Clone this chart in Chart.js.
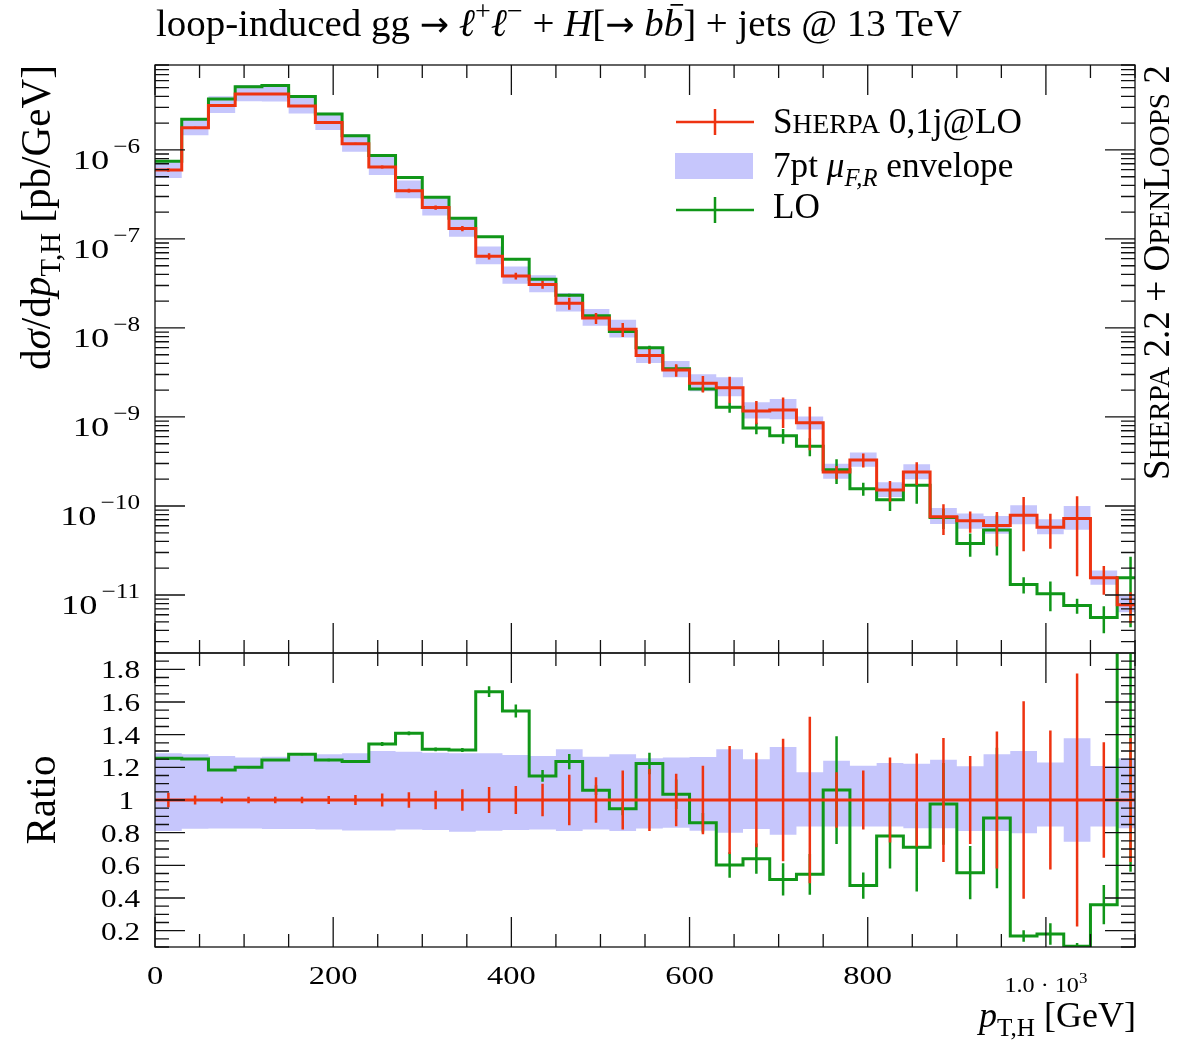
<!DOCTYPE html>
<html>
<head>
<meta charset="utf-8">
<script src="https://cdn.jsdelivr.net/npm/chart.js@4.4.1/dist/chart.umd.min.js"></script>
<style>
html, body { margin: 0; padding: 0; background: #fff; }
#wrap { position: relative; width: 1189px; height: 1040px; }
#wrap canvas { position: absolute; left: 0; top: 0; }
</style>
</head>
<body>
<div id="wrap">
  <canvas id="mainChart" width="1189" height="1040"></canvas>
  <canvas id="ratioChart" width="1189" height="1040"></canvas>
</div>
<script>
// ==========================================
// 1. Data (30 GeV bins)
// ==========================================
const binEdges = [0, 30, 60, 90, 120, 150, 180, 210, 240, 270, 300, 330, 360, 390, 420, 450,
  480, 510, 540, 570, 600, 630, 660, 690, 720, 750, 780, 810, 840, 870, 900, 930, 960, 990,
  1020, 1050, 1080, 1110];

// Sherpa 0,1j@LO, dσ/dpT [pb/GeV]
const sherpaXs = [5.96e-7, 1.77e-6, 3.15e-6, 4.26e-6, 4.26e-6, 3.12e-6, 2.04e-6, 1.17e-6, 6.44e-7, 3.49e-7,
  2.25e-7, 1.31e-7, 6.38e-8, 3.84e-8, 3.07e-8, 1.89e-8, 1.29e-8, 9.66e-9, 4.89e-9, 3.37e-9,
  2.39e-9, 2.13e-9, 1.17e-9, 1.20e-9, 8.63e-10, 2.41e-10, 3.29e-10, 1.51e-10, 2.41e-10, 7.59e-11,
  6.84e-11, 6.03e-11, 7.85e-11, 5.75e-11, 7.24e-11, 1.56e-11, 7.76e-12];
// relative stat. error of Sherpa
const sherpaRelErr = [0.045, 0.027, 0.02, 0.02, 0.02, 0.02, 0.025, 0.03, 0.04, 0.047,
  0.056, 0.066, 0.08, 0.086, 0.1, 0.155, 0.14, 0.18, 0.19, 0.16,
  0.21, 0.33, 0.29, 0.375, 0.51, 0.17, 0.18, 0.26, 0.285, 0.38,
  0.27, 0.42, 0.605, 0.425, 0.775, 0.353, 0.38];
// 7pt scale envelope, as ratio to Sherpa
const envHigh = [1.286, 1.28, 1.27, 1.26, 1.265, 1.273, 1.28, 1.286, 1.30, 1.296,
  1.29, 1.286, 1.286, 1.275, 1.27, 1.31, 1.265, 1.28, 1.255, 1.26,
  1.263, 1.31, 1.25, 1.324, 1.17, 1.24, 1.21, 1.226, 1.222, 1.247,
  1.206, 1.28, 1.30, 1.23, 1.378, 1.208, 1.255];
const envLow = [0.81, 0.824, 0.826, 0.826, 0.822, 0.822, 0.82, 0.814, 0.814, 0.82,
  0.816, 0.806, 0.812, 0.816, 0.82, 0.81, 0.82, 0.81, 0.826, 0.83,
  0.812, 0.80, 0.822, 0.788, 0.837, 0.837, 0.837, 0.837, 0.827, 0.827,
  0.81, 0.81, 0.796, 0.837, 0.745, 0.837, 0.827];
// LO, as ratio to Sherpa, with its error (ratio units)
const loRatio = [1.255, 1.251, 1.184, 1.20, 1.245, 1.28, 1.245, 1.235, 1.343, 1.408,
  1.31, 1.306, 1.663, 1.545, 1.147, 1.235, 1.06, 0.946, 1.224, 1.035,
  0.861, 0.602, 0.641, 0.514, 0.545, 1.061, 0.476, 0.78, 0.71, 0.976,
  0.555, 0.89, 0.167, 0.18, 0.105, 0.359, 2.01];
const loRatioErr = [0.008, 0.006, 0.006, 0.006, 0.006, 0.006, 0.007, 0.008, 0.012, 0.012,
  0.012, 0.012, 0.033, 0.04, 0.036, 0.047, 0.03, 0.04, 0.066, 0.09,
  0.06, 0.078, 0.093, 0.098, 0.125, 0.33, 0.08, 0.2, 0.27, 0.25,
  0.163, 0.43, 0.035, 0.066, 0.02, 0.12, 1.45];

// axis ticks and labels
const xTickValues = [0, 200, 400, 600, 800, 1000];
const xTickLabels = ['0', '200', '400', '600', '800', '1.0 · 10^3'];
const logTickPowers = [-6, -7, -8, -9, -10, -11];
const ratioTickValues = [1.8, 1.6, 1.4, 1.2, 1.0, 0.8, 0.6, 0.4, 0.2];
const ratioTickLabels = ['1.8', '1.6', '1.4', '1.2', '1', '0.8', '0.6', '0.4', '0.2'];

// ==========================================
// 2. Styles and helpers
// ==========================================
const SERIF = '"Liberation Serif", "DejaVu Serif", serif';
const RED = '#ee3311', GREEN = '#109618', BAND = 'rgb(198,198,252)';

const xMinor = [], logMinor = [], ratioMinor = [];
for (let v = 50; v <= 1100; v += 50) if (v % 200) xMinor.push(v);
for (let p = -12; p <= -6; p++) for (let k = 2; k <= 9; k++) logMinor.push(k * Math.pow(10, p));
for (let v = 0.1; v < 1.9; v += 0.05) ratioMinor.push(+v.toFixed(2));

function stepLine(vals) {
  const pts = [];
  vals.forEach((v, i) => { pts.push({ x: binEdges[i], y: v }, { x: binEdges[i + 1], y: v }); });
  return pts;
}
function errorBars(lo, hi) {
  const pts = [];
  lo.forEach((l, i) => {
    const c = (binEdges[i] + binEdges[i + 1]) / 2;
    pts.push({ x: c, y: l }, { x: c, y: hi[i] }, { x: c, y: null });
  });
  return pts;
}
function ds(data, color, width, order, extra) {
  return Object.assign({
    data, borderColor: color, borderWidth: width, pointRadius: 0, fill: false,
    order, clip: 0, borderCapStyle: 'butt', borderJoinStyle: 'miter', spanGaps: false
  }, extra || {});
}

// rich text: runs of {t, it, scale, dy, bar, f}
function runFont(r, size) {
  return (r.it ? 'italic ' : '') + (size * (r.scale || 1)).toFixed(2) + 'px ' + (r.f || SERIF);
}
function runsWidth(ctx, runs, size) {
  let w = 0;
  runs.forEach(r => { ctx.font = runFont(r, size); w += ctx.measureText(r.t).width; });
  return w;
}
function fitSize(ctx, runs, width) {
  return 100 * width / runsWidth(ctx, runs, 100);
}
function drawRuns(ctx, runs, x, y, size) {
  runs.forEach(r => {
    ctx.font = runFont(r, size);
    ctx.fillText(r.t, x, y + (r.dy || 0) * size);
    const w = ctx.measureText(r.t).width;
    if (r.bar) {
      ctx.save();
      ctx.strokeStyle = '#000'; ctx.lineWidth = size * 0.045;
      ctx.beginPath();
      ctx.moveTo(x + w * 0.35, y - size * 0.8);
      ctx.lineTo(x + w * 1.0, y - size * 0.8);
      ctx.stroke();
      ctx.restore();
    }
    x += w;
  });
  return x;
}
// plain text stretched horizontally (the original uses a wider face)
function drawWide(ctx, text, x, y, size, sx, align) {
  ctx.font = size + 'px ' + SERIF;
  const w = ctx.measureText(text).width * sx;
  let left = x;
  if (align === 'right') left = x - w;
  if (align === 'center') left = x - w / 2;
  ctx.save();
  ctx.textAlign = 'left';
  ctx.translate(left, y);
  ctx.scale(sx, 1);
  ctx.fillText(text, 0, 0);
  ctx.restore();
  return w;
}

const ARROW = '"DejaVu Sans", sans-serif';
const titleRuns = [{ t: 'loop-induced gg ' }, { t: '→', f: ARROW, scale: 0.9 }, { t: ' ' }, { t: 'ℓ', it: 1 },
  { t: '+', scale: 0.72, dy: -0.42 }, { t: 'ℓ', it: 1 }, { t: '−', scale: 0.72, dy: -0.42 }, { t: ' + ' },
  { t: 'H', it: 1 }, { t: '[' }, { t: '→', f: ARROW, scale: 0.9 }, { t: ' ' },
  { t: 'b', it: 1 }, { t: 'b', it: 1, bar: 1 }, { t: '] + jets @ 13 TeV' }];
const yTitleRuns = [{ t: 'd' }, { t: 'σ', it: 1 }, { t: '/d' }, { t: 'p', it: 1 },
  { t: 'T,H', scale: 0.7, dy: 0.25 }, { t: ' [pb/GeV]' }];
const xTitleRuns = [{ t: 'p', it: 1 }, { t: 'T,H', scale: 0.7, dy: 0.25 }, { t: ' [GeV]' }];
const legendRuns = [
  [{ t: 'S' }, { t: 'HERPA', scale: 0.78 }, { t: ' 0,1j@LO' }],
  [{ t: '7pt ' }, { t: 'μ', it: 1 }, { t: 'F,R', it: 1, scale: 0.7, dy: 0.25 }, { t: ' envelope' }],
  [{ t: 'LO' }]
];
const sideRuns = [{ t: 'S' }, { t: 'HERPA', scale: 0.78 }, { t: ' 2.2 + ' }, { t: 'O' },
  { t: 'PEN', scale: 0.78 }, { t: 'L' }, { t: 'OOPS', scale: 0.78 }, { t: ' 2' }];

// ==========================================
// 3. Plugins: frame + inward ticks, tick labels, annotations
// ==========================================
const frameTicks = {
  id: 'frameTicks',
  afterDraw(chart, args, opts) {
    const { ctx, chartArea: a } = chart;
    const x = chart.scales.x, y = chart.scales.y;
    ctx.save();
    ctx.strokeStyle = '#111';
    ctx.lineWidth = 1.3;
    ctx.beginPath();
    const hx = (v, len) => {
      const px = x.getPixelForValue(v);
      ctx.moveTo(px, a.top); ctx.lineTo(px, a.top + len);
      ctx.moveTo(px, a.bottom); ctx.lineTo(px, a.bottom - len);
    };
    const vy = (v, len) => {
      const py = y.getPixelForValue(v);
      if (py < a.top - 0.5 || py > a.bottom + 0.5) return;
      ctx.moveTo(a.left, py); ctx.lineTo(a.left + len, py);
      ctx.moveTo(a.right, py); ctx.lineTo(a.right - len, py);
    };
    xMinor.forEach(v => hx(v, 13));
    xTickValues.forEach(v => hx(v, 30));
    opts.yMinor.forEach(v => vy(v, 14));
    opts.yMajor.forEach(v => vy(v, 30));
    ctx.stroke();
    ctx.strokeRect(a.left, a.top, a.right - a.left, a.bottom - a.top);
    ctx.restore();
  }
};

const tickLabels = {
  id: 'tickLabels',
  afterDraw(chart, args, opts) {
    const { ctx } = chart;
    const x = chart.scales.x, y = chart.scales.y;
    ctx.save();
    ctx.fillStyle = '#000';
    ctx.textBaseline = 'alphabetic';
    if (opts.kind === 'log') {
      logTickPowers.forEach(p => {
        const py = y.getPixelForValue(Math.pow(10, p));
        const ew = drawWide(ctx, '−' + Math.abs(p), 140, py + 3, 21, 1.2, 'right');
        drawWide(ctx, '10', 140 - ew - 4, py + 19, 27, 1.35, 'right');
      });
    } else {
      ratioTickValues.forEach((v, i) => {
        const lab = ratioTickLabels[i];
        const right = lab.indexOf('.') < 0 ? 134 : 140;
        drawWide(ctx, lab, right, y.getPixelForValue(v) + 9, 26, 1.2, 'right');
      });
      xTickValues.forEach((v, i) => {
        const px = x.getPixelForValue(v);
        const lab = xTickLabels[i];
        if (lab.indexOf('^') < 0) {
          drawWide(ctx, lab, px, 984, 26, 1.25, 'center');
        } else {
          const [base, ex] = lab.split('^');
          const runs = [{ t: base }, { t: ex, scale: 0.7, dy: -0.45 }];
          const sx = 1.15;
          const w = runsWidth(ctx, runs, 21) * sx;
          ctx.save();
          ctx.textAlign = 'left';
          ctx.translate(px - w / 2, 992);
          ctx.scale(sx, 1);
          drawRuns(ctx, runs, 0, 0, 21);
          ctx.restore();
        }
      });
    }
    ctx.restore();
  }
};

const annotations = {
  id: 'annotations',
  afterDraw(chart) {
    const ctx = chart.ctx;
    ctx.save();
    ctx.fillStyle = '#000';
    ctx.textAlign = 'left';
    ctx.textBaseline = 'alphabetic';

    // title
    drawRuns(ctx, titleRuns, 156, 36, fitSize(ctx, titleRuns, 806));

    // legend
    const ls = fitSize(ctx, legendRuns[0], 249);
    ctx.lineWidth = 2.5;
    [[RED, 122], [GREEN, 210]].forEach(([c, yy]) => {
      ctx.strokeStyle = c;
      ctx.beginPath();
      ctx.moveTo(676, yy); ctx.lineTo(754, yy);
      ctx.moveTo(715, yy - 13); ctx.lineTo(715, yy + 13);
      ctx.stroke();
    });
    ctx.fillStyle = BAND;
    ctx.fillRect(675, 153, 78, 26);
    ctx.fillStyle = '#000';
    drawRuns(ctx, legendRuns[0], 773, 133, ls);
    drawRuns(ctx, legendRuns[1], 773, 177, ls);
    drawRuns(ctx, legendRuns[2], 773, 218, ls);

    // y axis titles (rotated)
    const ys = fitSize(ctx, yTitleRuns, 305);
    ctx.save();
    ctx.translate(50, 65 + 305);
    ctx.rotate(-Math.PI / 2);
    drawRuns(ctx, yTitleRuns, 0, 0, ys);
    ctx.restore();

    const rRuns = [{ t: 'Ratio' }];
    const rw = runsWidth(ctx, rRuns, ys);
    ctx.save();
    ctx.translate(55, 800 + rw / 2);
    ctx.rotate(-Math.PI / 2);
    drawRuns(ctx, rRuns, 0, 0, ys);
    ctx.restore();

    // generator label on the right
    const ss = fitSize(ctx, sideRuns, 415);
    ctx.save();
    ctx.translate(1169, 65 + 415);
    ctx.rotate(-Math.PI / 2);
    drawRuns(ctx, sideRuns, 0, 0, ss);
    ctx.restore();

    // x axis title
    const xs = fitSize(ctx, xTitleRuns, 157);
    drawRuns(ctx, xTitleRuns, 1136 - 157, 1027, xs);

    ctx.restore();
  }
};

// ==========================================
// 4. Build the two panels
// ==========================================
const loXs = sherpaXs.map((v, i) => v * loRatio[i]);

function baseOptions(padTop, padBottom, yScale, pluginOpts) {
  return {
    responsive: false,
    animation: false,
    events: [],
    layout: { padding: { left: 155, right: 54, top: padTop, bottom: padBottom } },
    scales: {
      x: { type: 'linear', min: 0, max: 1100, display: false },
      y: yScale
    },
    plugins: Object.assign({ legend: { display: false }, tooltip: { enabled: false } }, pluginOpts)
  };
}

new Chart(document.getElementById('mainChart'), {
  type: 'line',
  data: {
    datasets: [
      ds(stepLine(sherpaXs), RED, 3, 0),
      ds(errorBars(sherpaXs.map((v, i) => v * (1 - sherpaRelErr[i])),
                   sherpaXs.map((v, i) => v * (1 + sherpaRelErr[i]))), RED, 2.5, 0),
      ds(stepLine(loXs), GREEN, 3, 1),
      ds(errorBars(loXs.map((v, i) => v - sherpaXs[i] * loRatioErr[i]),
                   loXs.map((v, i) => v + sherpaXs[i] * loRatioErr[i])), GREEN, 2.5, 1),
      ds(stepLine(sherpaXs.map((v, i) => v * envHigh[i])), 'rgba(0,0,0,0)', 0, 2),
      ds(stepLine(sherpaXs.map((v, i) => v * envLow[i])), 'rgba(0,0,0,0)', 0, 2,
         { fill: '-1', backgroundColor: BAND })
    ]
  },
  options: baseOptions(65, 1040 - 653,
    { type: 'logarithmic', min: 2.23e-12, max: 9.0e-6, display: false },
    { frameTicks: { yMajor: logTickPowers.map(p => Math.pow(10, p)), yMinor: logMinor },
      tickLabels: { kind: 'log' } }),
  plugins: [frameTicks, tickLabels, annotations]
});

new Chart(document.getElementById('ratioChart'), {
  type: 'line',
  data: {
    datasets: [
      ds(stepLine(sherpaXs.map(() => 1)), RED, 3, 0),
      ds(errorBars(sherpaRelErr.map(e => 1 - e), sherpaRelErr.map(e => 1 + e)), RED, 2.5, 0),
      ds(stepLine(loRatio), GREEN, 3, 1),
      ds(errorBars(loRatio.map((v, i) => v - loRatioErr[i]),
                   loRatio.map((v, i) => v + loRatioErr[i])), GREEN, 2.5, 1),
      ds(stepLine(envHigh), 'rgba(0,0,0,0)', 0, 2),
      ds(stepLine(envLow), 'rgba(0,0,0,0)', 0, 2, { fill: '-1', backgroundColor: BAND })
    ]
  },
  options: baseOptions(653, 1040 - 947,
    { type: 'linear', min: 0.1, max: 1.9, display: false },
    { frameTicks: { yMajor: ratioTickValues, yMinor: ratioMinor },
      tickLabels: { kind: 'ratio' } }),
  plugins: [frameTicks, tickLabels]
});
</script>
</body>
</html>
